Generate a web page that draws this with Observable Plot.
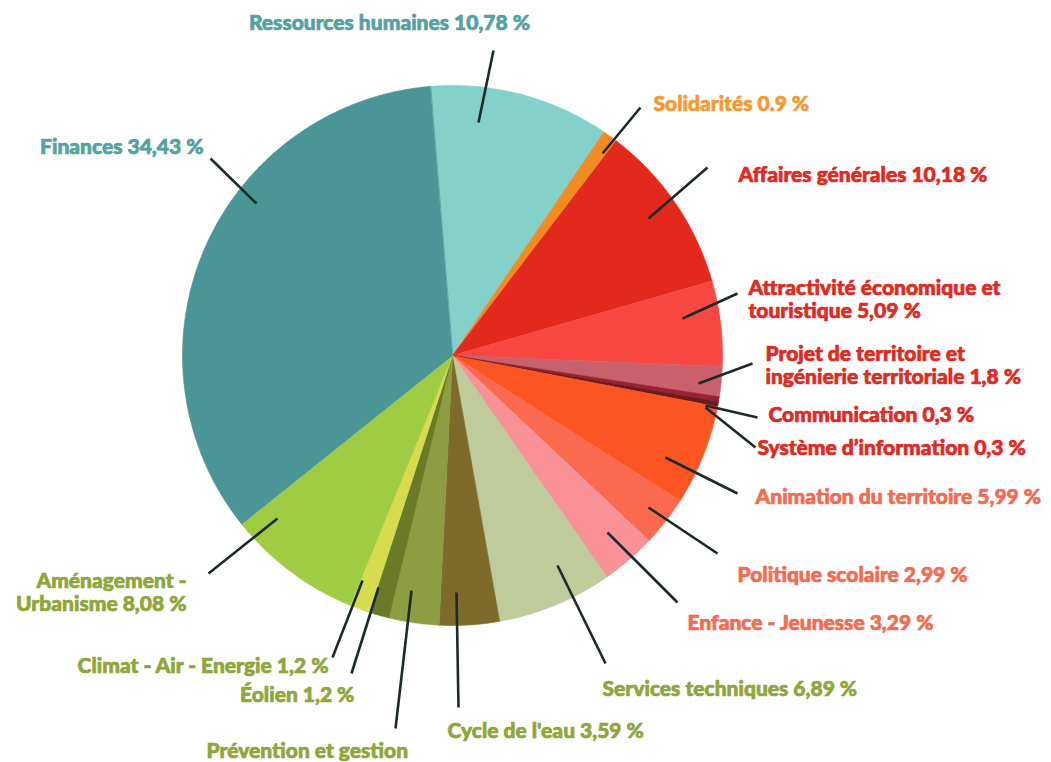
<!DOCTYPE html>
<html>
<head>
<meta charset="utf-8">
<script src="https://cdn.jsdelivr.net/npm/d3@7"></script>
<script src="https://cdn.jsdelivr.net/npm/@observablehq/plot@0.6"></script>
<style>
  html, body { margin: 0; padding: 0; background: #ffffff; }
  #chart { width: 1051px; height: 762px; overflow: hidden; }
  #chart svg { display: block; }
</style>
</head>
<body>
<div id="chart"></div>
<script>
// ---------- DATA ----------
const categories = [
  "Ressources humaines", "Solidarités", "Affaires générales",
  "Attractivité économique et touristique", "Projet de territoire et ingénierie territoriale",
  "Communication", "Système d’information", "Animation du territoire",
  "Politique scolaire", "Enfance - Jeunesse", "Services techniques",
  "Cycle de l'eau", "Prévention et gestion", "Éolien",
  "Climat - Air - Energie", "Aménagement - Urbanisme", "Finances"
];
const values = [10.78, 0.9, 10.18, 5.09, 1.8, 0.3, 0.3, 5.99, 2.99, 3.29, 6.89, 3.59, 2.99, 1.2, 1.2, 8.08, 34.43];
const labelTexts = [
  "Ressources humaines 10,78 %", "Solidarités 0.9 %", "Affaires générales 10,18 %",
  "Attractivité économique et\ntouristique 5,09 %", "Projet de territoire et\ningénierie territoriale 1,8 %",
  "Communication 0,3 %", "Système d’information 0,3 %", "Animation du territoire 5,99 %",
  "Politique scolaire 2,99 %", "Enfance - Jeunesse 3,29 %", "Services techniques 6,89 %",
  "Cycle de l'eau 3,59 %", "Prévention et gestion", "Éolien 1,2 %",
  "Climat - Air - Energie 1,2 %", "Aménagement -\nUrbanisme 8,08 %", "Finances 34,43 %"
];

// ---------- STYLES ----------
const sliceColors = [
  "#84d0ca", "#f28c22", "#e3291e", "#fb4742", "#c8616b", "#9a2232", "#6a1a22",
  "#fc5522", "#fb6a4f", "#f99196", "#bfca9d", "#7e6b2b", "#8e9d42", "#6a7a27",
  "#d6dc4e", "#a0cc44", "#4a9598"
];
const labelColors = [
  "#55a1a0", "#f49a35", "#df2a22", "#df2a22", "#df2a22", "#df2a22", "#df2a22",
  "#f46b50", "#f46b50", "#f46b50", "#8fa63a", "#8fa63a", "#8fa63a", "#8fa63a",
  "#8fa63a", "#8fa63a", "#55a1a0"
];

// ---------- LAYOUT (pixels) ----------
const W = 1051, H = 762;
const cx = 452, cy = 355, R = 270;
const startDeg = -4.7;
// label anchor: [x, y, textAnchor]; leader: [outerX, outerY, innerX, innerY]
const labelPos = [
  [389, 22, "middle"], [653, 103, "start"], [738, 174, "start"],
  [748, 299, "start"], [765, 365, "start"], [768, 414, "start"],
  [757, 447, "start"], [755, 496, "start"], [737, 574, "start"],
  [687, 622, "start"], [602, 688, "start"], [447, 730, "start"],
  [206, 750, "start"], [354, 694, "end"], [328, 665, "end"],
  [186, 592, "end"], [203, 146, "end"]
];
const leaders = [
  [493, 50, 478, 122], [640, 107, 602, 153], [707, 167, 648, 218],
  [737, 293, 682, 318], [752, 363, 698, 383], [757, 417, 705, 405],
  [755, 447, 705, 407], [737, 493, 665, 457], [717, 553, 648, 507],
  [677, 602, 607, 532], [605, 663, 557, 565], [458, 707, 456, 592],
  [395, 728, 411, 590], [351, 673, 378, 587], [332, 657, 362, 580],
  [208, 573, 277, 518], [210, 158, 256, 203]
];

// ---------- BUILD ----------
const rows = categories.map((c, i) => ({name: c, value: values[i], i}));
const arcs = d3.pie().sort(null).value(d => d.value)
  .startAngle(startDeg * Math.PI / 180)
  .endAngle((startDeg + 360) * Math.PI / 180)(rows);

const slicePts = [];
for (const a of arcs) {
  const n = Math.max(2, Math.ceil((a.endAngle - a.startAngle) / (Math.PI / 360)));
  slicePts.push({name: a.data.name, x: cx, y: cy});
  for (let k = 0; k <= n; k++) {
    const t = a.startAngle + (a.endAngle - a.startAngle) * k / n;
    slicePts.push({name: a.data.name, x: cx + R * Math.sin(t), y: cy - R * Math.cos(t)});
  }
}

const labelRows = rows.map((r, i) => ({
  name: r.name, text: labelTexts[i], x: labelPos[i][0], y: labelPos[i][1],
  anchor: labelPos[i][2], color: labelColors[i],
  x1: leaders[i][0], y1: leaders[i][1], x2: leaders[i][2], y2: leaders[i][3]
}));

const textMarks = ["start", "middle", "end"].map(anc =>
  Plot.text(labelRows.filter(d => d.anchor === anc), {
    x: "x", y: "y", text: "text", fill: d => d.color, stroke: d => d.color,
    strokeWidth: 0.7, textAnchor: anc,
    fontSize: 21, fontWeight: 900, lineHeight: 1.1,
    fontFamily: "Lato, 'Open Sans', sans-serif",
    style: {letterSpacing: "-0.9px"}
  })
);

const chart = Plot.plot({
  width: W, height: H,
  margin: 0, marginTop: 0, marginRight: 0, marginBottom: 0, marginLeft: 0,
  x: {domain: [0, W], range: [0, W], axis: null},
  y: {domain: [0, H], range: [0, H], axis: null},
  color: {type: "ordinal", domain: categories, range: sliceColors},
  style: {background: "#ffffff"},
  marks: [
    Plot.line(slicePts, {x: "x", y: "y", z: "name", fill: "name", stroke: "name",
      strokeWidth: 0.6, curve: "linear-closed"}),
    Plot.link(labelRows, {x1: "x1", y1: "y1", x2: "x2", y2: "y2",
      stroke: "#1c2a2b", strokeWidth: 2.6, strokeLinecap: "butt"}),
    ...textMarks
  ]
});
document.getElementById("chart").appendChild(chart);
</script>
</body>
</html>
